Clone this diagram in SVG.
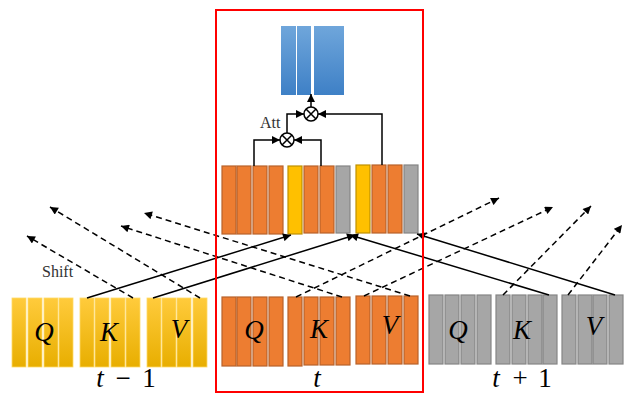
<svg xmlns="http://www.w3.org/2000/svg" width="633" height="394" viewBox="0 0 633 394">
<defs>
<linearGradient id="gBlue" x1="0" y1="0" x2="0" y2="1"><stop offset="0" stop-color="#6FA6DB"/><stop offset="1" stop-color="#3E80C6"/></linearGradient>
<linearGradient id="gYel" x1="0" y1="0" x2="0" y2="1"><stop offset="0" stop-color="#FFCB3C"/><stop offset="1" stop-color="#E8AE00"/></linearGradient>
<marker id="ah" viewBox="0 0 10 10" refX="10" refY="5" markerWidth="9" markerHeight="8" markerUnits="userSpaceOnUse" orient="auto"><path d="M0,0 L10,5 L0,10 z" fill="#000"/></marker>
<style>
.o{fill:#ED7D31;stroke:#B8622A;stroke-width:1.2}
.y{fill:#FFC000;stroke:#BF9000;stroke-width:1.2}
.g{fill:#A6A6A6;stroke:#858585;stroke-width:1.2}
.yl{fill:url(#gYel);stroke:#FFD966;stroke-width:0.8}
.b{fill:url(#gBlue)}
.ln{fill:none;stroke:#000;stroke-width:1.5}
.ds{fill:none;stroke:#000;stroke-width:1.5;stroke-dasharray:6 4}
.lab{font-family:"Liberation Serif",serif;font-style:italic;font-size:27px;fill:#000;text-anchor:middle}
.tm{font-family:"Liberation Serif",serif;font-size:27px;fill:#000;text-anchor:middle}
.sm{font-family:"Liberation Serif",serif;font-size:16px;fill:#333}
</style>
</defs>
<rect width="633" height="394" fill="#fff"/>

<g id="output">
<rect class="b" x="281" y="26" width="15" height="69"/>
<rect class="b" x="297" y="26" width="14" height="69"/>
<rect class="b" x="314" y="26" width="15" height="69"/>
<rect class="b" x="329" y="26" width="15" height="69"/>
</g>

<g id="mul-top">
<circle cx="311" cy="114" r="7" fill="#fff" stroke="#000" stroke-width="1.5"/>
<path d="M306,109 L316,119 M316,109 L306,119" stroke="#000" stroke-width="1.5"/>
</g>
<g id="mul-att">
<circle cx="287" cy="140" r="7" fill="#fff" stroke="#000" stroke-width="1.5"/>
<path d="M282,135 L292,145 M292,135 L282,145" stroke="#000" stroke-width="1.5"/>
<text class="sm" x="260" y="128">Att</text>
</g>

<g id="mixed-features">
<rect class="o" x="222" y="166" width="14" height="68"/>
<rect class="o" x="237" y="166" width="14" height="68"/>
<rect class="o" x="253" y="166" width="14" height="68"/>
<rect class="o" x="269" y="166" width="14" height="68"/>
<rect class="y" x="288" y="166" width="14" height="68"/>
<rect class="o" x="304" y="166" width="14" height="67"/>
<rect class="o" x="320" y="166" width="14" height="67"/>
<rect class="g" x="336" y="166" width="14" height="67"/>
<rect class="y" x="356" y="165" width="14" height="68"/>
<rect class="o" x="372" y="165" width="14" height="68"/>
<rect class="o" x="388" y="165" width="14" height="68"/>
<rect class="g" x="404" y="165" width="14" height="68"/>
</g>

<g id="qkv-t-minus-1">
<g id="q-t-minus-1">
<rect class="yl" x="12" y="298" width="14" height="69"/><rect class="yl" x="28" y="298" width="14" height="69"/><rect class="yl" x="44" y="298" width="14" height="69"/><rect class="yl" x="59" y="298" width="14" height="69"/>
<text class="lab" x="44" y="341">Q</text>
</g>
<g id="k-t-minus-1">
<rect class="yl" x="80" y="298" width="14" height="69"/><rect class="yl" x="95" y="298" width="14" height="69"/><rect class="yl" x="111" y="298" width="14" height="69"/><rect class="yl" x="126" y="298" width="14" height="69"/>
<text class="lab" x="109" y="341">K</text>
</g>
<g id="v-t-minus-1">
<rect class="yl" x="147" y="298" width="14" height="69"/><rect class="yl" x="162" y="298" width="14" height="69"/><rect class="yl" x="177" y="298" width="14" height="69"/><rect class="yl" x="193" y="298" width="14" height="69"/>
<text class="lab" x="179" y="338">V</text>
</g>
<text class="tm" x="100" y="387" font-style="italic">t</text>
<text class="tm" x="123" y="387">−</text>
<text class="tm" x="149" y="387">1</text>
</g>

<g id="qkv-t">
<g id="q-t">
<rect class="o" x="222" y="297" width="14" height="69"/><rect class="o" x="237" y="297" width="14" height="69"/><rect class="o" x="253" y="297" width="14" height="69"/><rect class="o" x="269" y="297" width="14" height="69"/>
<text class="lab" x="254" y="339">Q</text>
</g>
<g id="k-t">
<rect class="o" x="288" y="297" width="14" height="69"/><rect class="o" x="304" y="297" width="14" height="68"/><rect class="o" x="320" y="297" width="14" height="68"/><rect class="o" x="336" y="297" width="14" height="68"/>
<text class="lab" x="319" y="338">K</text>
</g>
<g id="v-t">
<rect class="o" x="356" y="296" width="14" height="68"/><rect class="o" x="372" y="296" width="14" height="68"/><rect class="o" x="388" y="296" width="14" height="68"/><rect class="o" x="404" y="296" width="14" height="68"/>
<text class="lab" x="390" y="334">V</text>
</g>
<text class="tm" x="317" y="387" font-style="italic">t</text>
</g>

<g id="qkv-t-plus-1">
<g id="q-t-plus-1">
<rect class="g" x="429" y="295" width="14" height="69"/><rect class="g" x="445" y="295" width="14" height="69"/><rect class="g" x="461" y="295" width="14" height="69"/><rect class="g" x="477" y="295" width="14" height="69"/>
<text class="lab" x="458" y="339">Q</text>
</g>
<g id="k-t-plus-1">
<rect class="g" x="496" y="295" width="14" height="69"/><rect class="g" x="512" y="295" width="14" height="69"/><rect class="g" x="528" y="295" width="14" height="69"/><rect class="g" x="543" y="295" width="14" height="69"/>
<text class="lab" x="522" y="339">K</text>
</g>
<g id="v-t-plus-1">
<rect class="g" x="562" y="295" width="14" height="69"/><rect class="g" x="578" y="295" width="14" height="69"/><rect class="g" x="593" y="295" width="14" height="69"/><rect class="g" x="609" y="295" width="14" height="69"/>
<text class="lab" x="594" y="335">V</text>
</g>
<text class="tm" x="496" y="387" font-style="italic">t</text>
<text class="tm" x="520" y="387">+</text>
<text class="tm" x="545" y="387">1</text>
</g>

<text class="sm" x="42" y="277">Shift</text>

<g id="connectors">
<path class="ln" d="M311,107 L311,94" marker-end="url(#ah)"/>
<path class="ln" d="M287,133 L287,114 L304,114" marker-end="url(#ah)"/>
<path class="ln" d="M382,165 L382,114 L318,114" marker-end="url(#ah)"/>
<path class="ln" d="M254,166 L254,140 L280,140" marker-end="url(#ah)"/>
<path class="ln" d="M321,166 L321,140 L294,140" marker-end="url(#ah)"/>

<path class="ln" d="M87,298 L291,235" marker-end="url(#ah)"/>
<path class="ln" d="M153,298 L355,235" marker-end="url(#ah)"/>
<path class="ln" d="M549,295 L350,235" marker-end="url(#ah)"/>
<path class="ln" d="M615,295 L417,234" marker-end="url(#ah)"/>

<path class="ds" d="M296,297 L499,198" marker-end="url(#ah)"/>
<path class="ds" d="M364,296 L553,207" marker-end="url(#ah)"/>
<path class="ds" d="M503,295 L591,206" marker-end="url(#ah)"/>
<path class="ds" d="M568,295 L622,225" marker-end="url(#ah)"/>
<path class="ds" d="M342,297 L121,226" marker-end="url(#ah)"/>
<path class="ds" d="M410,296 L144,213" marker-end="url(#ah)"/>
<path class="ds" d="M133,298 L27,236" marker-end="url(#ah)"/>
<path class="ds" d="M200,298 L50,207" marker-end="url(#ah)"/>
</g>

<rect id="time-t-frame" x="216" y="10" width="207" height="382" fill="none" stroke="#FF0000" stroke-width="2"/>
</svg>
